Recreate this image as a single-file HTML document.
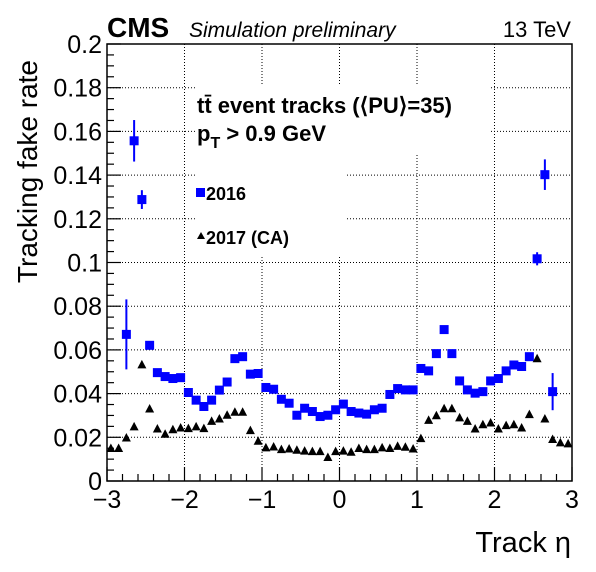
<!DOCTYPE html>
<html><head><meta charset="utf-8"><style>
html,body{margin:0;padding:0;background:#fff;}
svg{display:block;font-family:"Liberation Sans",sans-serif;}
</style></head><body>
<svg id="chart" width="596" height="572" viewBox="0 0 596 572" xmlns="http://www.w3.org/2000/svg">
<rect width="596" height="572" fill="#fff"/>
<g id="grid"></g>
<rect x="195" y="85" width="295" height="70" fill="#fff"/>
<rect x="195" y="155" width="152" height="100" fill="#fff"/>
<g id="ticks"></g>
<g id="marks"></g>
<text x="107" y="37" font-size="28" font-weight="bold">CMS</text>
<text x="189" y="37" font-size="21" font-style="italic">Simulation preliminary</text>
<text x="571" y="37" font-size="22" text-anchor="end">13 TeV</text>
<text x="197" y="113" font-size="22" font-weight="bold">tt̄ event tracks (⟨PU⟩=35)</text>
<text x="197" y="141" font-size="22" font-weight="bold">p<tspan font-size="16" dy="7">T</tspan><tspan dy="-7"> &gt; 0.9 GeV</tspan></text>
<rect x="196" y="188" width="9" height="9" fill="#0000ff"/>
<text x="206" y="200" font-size="18" font-weight="bold">2016</text>
<polygon points="197,239 201,232 205,239" fill="#000"/>
<text x="206" y="244" font-size="18" font-weight="bold">2017 (CA)</text>
<text transform="translate(37,60) rotate(-90)" font-size="28" text-anchor="end">Tracking fake rate</text>
<text x="571" y="552" font-size="29" text-anchor="end">Track η</text>
</svg>
<script>
const xTicks = [-3,-2,-1,0,1,2,3];
const xTickLabels = ["−3","−2","−1","0","1","2","3"];
const yTicks = [0,0.02,0.04,0.06,0.08,0.1,0.12,0.14,0.16,0.18,0.2];
const yTickLabels = ["0","0.02","0.04","0.06","0.08","0.1","0.12","0.14","0.16","0.18","0.2"];
const eta2017 = [-2.95,-2.85,-2.75,-2.65,-2.55,-2.45,-2.35,-2.25,-2.15,-2.05,-1.95,-1.85,-1.75,-1.65,-1.55,-1.45,-1.35,-1.25,-1.15,-1.05,-0.95,-0.85,-0.75,-0.65,-0.55,-0.45,-0.35,-0.25,-0.15,-0.05,0.05,0.15,0.25,0.35,0.45,0.55,0.65,0.75,0.85,0.95,1.05,1.15,1.25,1.35,1.45,1.55,1.65,1.75,1.85,1.95,2.05,2.15,2.25,2.35,2.45,2.55,2.65,2.75,2.85,2.95];
const rate2017 = [0.0151,0.0151,0.0199,0.0250,0.0534,0.0332,0.0240,0.0216,0.0237,0.0245,0.0242,0.0250,0.0242,0.0275,0.0286,0.0303,0.0317,0.0317,0.0233,0.0184,0.0154,0.0158,0.0146,0.0149,0.0143,0.0139,0.0137,0.0137,0.0110,0.0137,0.0139,0.0134,0.0151,0.0146,0.0146,0.0154,0.0151,0.0161,0.0157,0.0149,0.0196,0.0280,0.0301,0.0333,0.0333,0.0291,0.0275,0.0240,0.0260,0.0268,0.0240,0.0256,0.0260,0.0245,0.0306,0.0562,0.0286,0.0192,0.0177,0.0172];
const eta2016 = [-2.75,-2.65,-2.55,-2.45,-2.35,-2.25,-2.15,-2.05,-1.95,-1.85,-1.75,-1.65,-1.55,-1.45,-1.35,-1.25,-1.15,-1.05,-0.95,-0.85,-0.75,-0.65,-0.55,-0.45,-0.35,-0.25,-0.15,-0.05,0.05,0.15,0.25,0.35,0.45,0.55,0.65,0.75,0.85,0.95,1.05,1.15,1.25,1.35,1.45,1.55,1.65,1.75,1.85,1.95,2.05,2.15,2.25,2.35,2.45,2.55,2.65,2.75];
const rate2016 = [0.0671,0.1557,0.1288,0.0621,0.0496,0.0478,0.0469,0.0473,0.0405,0.0370,0.0341,0.0370,0.0416,0.0453,0.0560,0.0569,0.0489,0.0492,0.0428,0.0420,0.0374,0.0356,0.0301,0.0333,0.0318,0.0295,0.0301,0.0326,0.0352,0.0318,0.0311,0.0306,0.0326,0.0333,0.0396,0.0423,0.0417,0.0417,0.0515,0.0504,0.0583,0.0693,0.0583,0.0458,0.0417,0.0402,0.0409,0.0458,0.0469,0.0504,0.0531,0.0524,0.0569,0.1017,0.1402,0.0409];
const err2016 = [0.016,0.0095,0.0043,0,0,0,0,0,0,0,0,0,0,0,0,0,0,0,0,0,0,0,0,0,0,0,0,0,0,0,0,0,0,0,0,0,0,0,0,0,0,0,0,0,0,0,0,0,0,0,0,0,0,0.003,0.007,0.0085];

const NS="http://www.w3.org/2000/svg";
const L=107,R=572,T=44,B=481;
function X(v){return L+(v+3)/6*(R-L);}
function Y(v){return B-v/0.2*(B-T);}
function mk(tag,attrs,parent){const e=document.createElementNS(NS,tag);for(const k in attrs)e.setAttribute(k,attrs[k]);parent.appendChild(e);return e;}
const grid=document.getElementById('grid'),ticks=document.getElementById('ticks'),marks=document.getElementById('marks');
xTicks.slice(1,-1).forEach(v=>{const l=mk('line',{x1:X(v),x2:X(v),y1:T,y2:B,stroke:'#000','stroke-width':1,'stroke-dasharray':'1,2'},grid);

});
yTicks.slice(1,-1).forEach(v=>{const l=mk('line',{x1:L,x2:R,y1:Y(v),y2:Y(v),stroke:'#000','stroke-width':1,'stroke-dasharray':'1,2'},grid);

});
const frame=mk('rect',{x:L,y:T,width:R-L,height:B-T,fill:'none',stroke:'#000','stroke-width':1.5},ticks);


for(let i=0;i<=30;i++){const v=-3+i*0.2;const len=(i%5===0)?14:7;
mk('line',{x1:X(v),x2:X(v),y1:B,y2:B-len,stroke:'#000','stroke-width':1.2},ticks);}
for(let i=0;i<=40;i++){const v=i*0.005;const len=(i%4===0)?14:7;
mk('line',{x1:L,x2:L+len,y1:Y(v),y2:Y(v),stroke:'#000','stroke-width':1.2},ticks);}
xTicks.forEach((v,i)=>{const t=mk('text',{x:X(v),y:508,'font-size':25,'text-anchor':'middle'},ticks);t.textContent=xTickLabels[i];

});
yTicks.forEach((v,i)=>{const t=mk('text',{x:102,y:Y(v)+9,'font-size':25,'text-anchor':'end'},ticks);t.textContent=yTickLabels[i];

});
eta2016.forEach((e,i)=>{const cx=X(e),cy=Y(rate2016[i]);
if(err2016[i]>0){const eb=mk('line',{x1:cx,x2:cx,y1:Y(rate2016[i]+err2016[i]),y2:Y(rate2016[i]-err2016[i]),stroke:'#0000ff','stroke-width':2},marks);

}
const r=mk('rect',{x:cx-4.5,y:cy-4.5,width:9,height:9,fill:'#0000ff'},marks);

});
eta2017.forEach((e,i)=>{const cx=X(e),cy=Y(rate2017[i]);
const p=mk('polygon',{points:`${cx-4.5},${cy+4} ${cx},${cy-4.5} ${cx+4.5},${cy+4}`,fill:'#000'},marks);

});
</script>
</body></html>
